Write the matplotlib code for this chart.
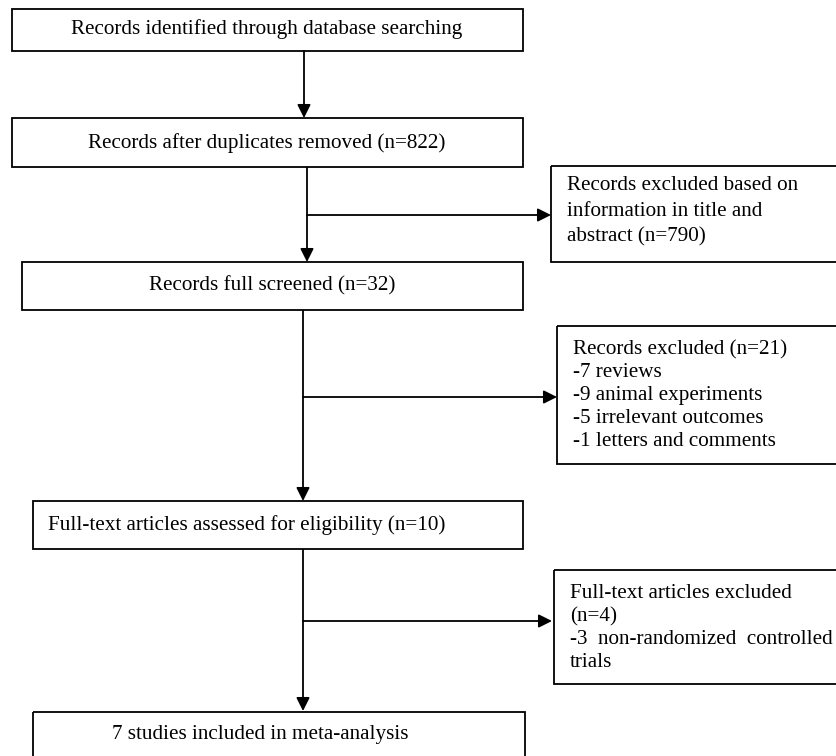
import matplotlib
matplotlib.use("Agg")
import matplotlib.pyplot as plt
from matplotlib.patches import Rectangle

plt.rcParams['font.family'] = ['Liberation Serif', 'DejaVu Serif']

# box texts of the flow chart
main_steps = [
    "Records identified through database searching",
    "Records after duplicates removed (n=822)",
    "Records full screened (n=32)",
    "Full-text articles assessed for eligibility (n=10)",
    "7 studies included in meta-analysis",
]
excluded_1 = ["Records excluded based on",
              "information in title and",
              "abstract (n=790)"]
excluded_2 = ["Records excluded (n=21)",
              "-7 reviews",
              "-9 animal experiments",
              "-5 irrelevant outcomes",
              "-1 letters and comments"]
excluded_3 = ["Full-text articles excluded",
              "(n=4)",
              "-3  non-randomized  controlled",
              "trials"]

W, H = 837, 756
fig = plt.figure(figsize=(W / 100, H / 100), dpi=100)
ax = fig.add_axes([0, 0, 1, 1])
ax.set_xlim(0, W)
ax.set_ylim(H, 0)
ax.axis('off')

FS = 15.2
LW = 1.3


def box(x0, y0, x1, y1):
    ax.add_patch(Rectangle((x0, y0), x1 - x0, y1 - y0, fill=False,
                           edgecolor='black', linewidth=LW))


def arrow(x0, y0, x1, y1):
    ax.annotate("", xy=(x1, y1), xytext=(x0, y0),
                arrowprops=dict(arrowstyle='-|>', color='black', lw=LW,
                                mutation_scale=20, shrinkA=0, shrinkB=0))


def line(x0, y0, x1, y1):
    ax.plot([x0, x1], [y0, y1], color='black', lw=LW, solid_capstyle='butt')


# main column
box(12, 9, 523, 51)
ax.text(267, 29, main_steps[0], ha='center', va='center', fontsize=FS)
arrow(304, 51, 304, 118)

box(12, 118, 523, 167)
ax.text(267, 143, main_steps[1], ha='center', va='center', fontsize=FS)
line(307, 167, 307, 215)
arrow(307, 215, 307, 262)
arrow(307, 215, 551, 215)

box(22, 262, 523, 310)
ax.text(272, 286, main_steps[2], ha='center', va='center', fontsize=FS)
line(303, 310, 303, 397)
arrow(303, 397, 303, 501)
arrow(303, 397, 557, 397)

box(33, 501, 523, 549)
ax.text(48, 525, main_steps[3], ha='left', va='center', fontsize=FS)
line(303, 549, 303, 621)
arrow(303, 621, 303, 711)
arrow(303, 621, 552, 621)

box(33, 712, 525, 790)
ax.text(260, 735, main_steps[4], ha='center', va='center', fontsize=FS)

# exclusion boxes on the right (cut by the figure edge)
box(551, 166, 850, 262)
ax.text(567, 211.5, "\n".join(excluded_1), ha='left', va='center',
        fontsize=FS, linespacing=1.46)

box(557, 326, 850, 464)
ax.text(573, 395.5, "\n".join(excluded_2), ha='left', va='center',
        fontsize=FS, linespacing=1.27)

box(554, 570, 850, 684)
ax.text(570, 628, "\n".join(excluded_3), ha='left', va='center',
        fontsize=FS, linespacing=1.29)

fig.savefig("out.png", dpi=100)
